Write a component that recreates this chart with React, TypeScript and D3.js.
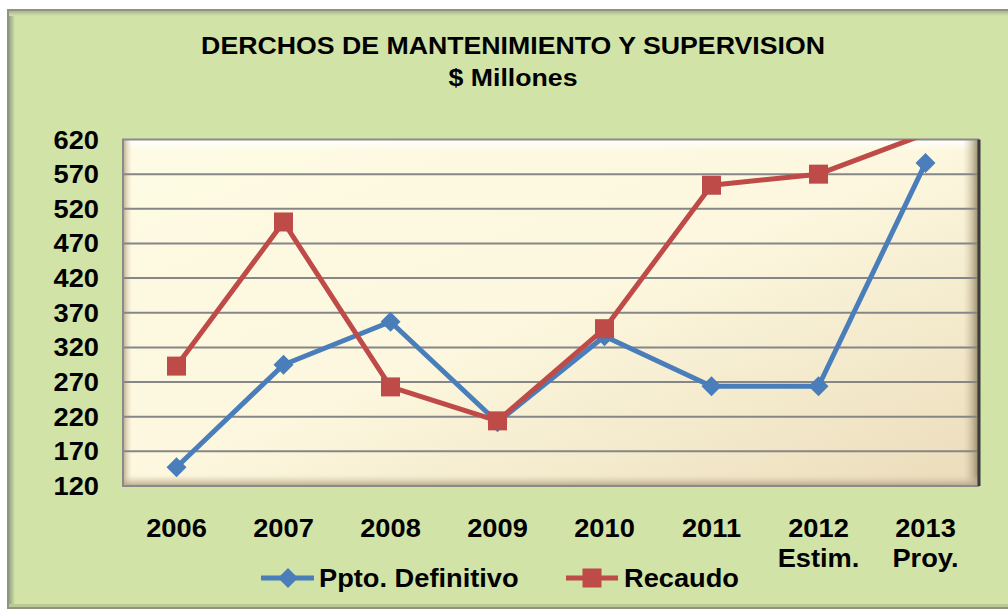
import React from "react";
import * as d3 from "d3";

const years = ["2006", "2007", "2008", "2009", "2010", "2011", "2012", "2013"];
const subLabels = ["", "", "", "", "", "", "Estim.", "Proy."];
const ppto = [147, 295, 357, 212, 336, 264, 264, 586];
const recaudo = [293, 501, 263, 214, 347, 554, 570, 628];
const yTicks = [120, 170, 220, 270, 320, 370, 420, 470, 520, 570, 620];
const seriesNames = ["Ppto. Definitivo", "Recaudo"];
const titleLines = ["DERCHOS DE MANTENIMIENTO Y SUPERVISION", "$ Millones"];

const W = 1008;
const H = 614;
const PL = 123, PR = 979, PT = 139.5, PB = 486;
const FONT = "'Liberation Sans', Arial, sans-serif";
const SX = 1.09;
const BLUE = "#4a7ebb";
const RED = "#be4b48";

export default function App() {
  const x = d3.scaleBand<string>().domain(years).range([PL, PR]);
  const y = d3.scaleLinear().domain([120, 620]).range([PB, PT]);
  const [yMin, yMax] = y.domain();
  const inRange = (v: number) => v >= yMin && v <= yMax;
  const cx = (i: number) => (x(years[i]) as number) + x.bandwidth() / 2;
  const line = d3.line<number>().x((_, i) => cx(i)).y((v) => y(v));

  const T = (
    tx: number,
    ty: number,
    s: string,
    size: number,
    anchor: "start" | "middle" | "end" = "middle",
    key?: string
  ) => (
    <text
      key={key}
      transform={`translate(${tx},${ty}) scale(${SX},1)`}
      textAnchor={anchor}
      fontFamily={FONT}
      fontWeight="bold"
      fontSize={size}
      fill="#000"
    >
      {s}
    </text>
  );

  const diamond = (px: number, py: number, r: number, key?: string) => (
    <path
      key={key}
      d={`M${px},${py - r}L${px + r},${py}L${px},${py + r}L${px - r},${py}Z`}
      fill={BLUE}
    />
  );
  const square = (px: number, py: number, s: number, key?: string) => (
    <rect key={key} x={px - s / 2} y={py - s / 2} width={s} height={s} fill={RED} />
  );

  return (
    <svg
      width={W}
      height={H}
      style={{ position: "absolute", left: 0, top: 0, display: "block" }}
    >
      <defs>
        <linearGradient id="plotBg" x1="0" y1="0" x2="1" y2="1">
          <stop offset="0" stopColor="#fefbe4" />
          <stop offset="0.5" stopColor="#fcf7de" />
          <stop offset="1" stopColor="#ebdcba" />
        </linearGradient>
        <linearGradient id="bvTop" x1="0" y1="0" x2="0" y2="1">
          <stop offset="0" stopColor="#ffffff" stopOpacity="1" />
          <stop offset="1" stopColor="#ffffff" stopOpacity="0" />
        </linearGradient>
        <linearGradient id="bvLeft" x1="0" y1="0" x2="1" y2="0">
          <stop offset="0" stopColor="#b9a98a" stopOpacity="1" />
          <stop offset="1" stopColor="#e8dcc0" stopOpacity="0" />
        </linearGradient>
        <linearGradient id="bvRight" x1="0" y1="0" x2="1" y2="0">
          <stop offset="0" stopColor="#d8c9a6" stopOpacity="0" />
          <stop offset="1" stopColor="#8f8266" stopOpacity="1" />
        </linearGradient>
        <linearGradient id="bvBottom" x1="0" y1="0" x2="0" y2="1">
          <stop offset="0" stopColor="#dccfae" stopOpacity="0" />
          <stop offset="1" stopColor="#b3a688" stopOpacity="1" />
        </linearGradient>
        <linearGradient id="frLeft" x1="0" y1="0" x2="1" y2="0">
          <stop offset="0" stopColor="#97a183" />
          <stop offset="1" stopColor="#d1e3a7" />
        </linearGradient>
        <linearGradient id="frTop" x1="0" y1="0" x2="0" y2="1">
          <stop offset="0" stopColor="#aab494" />
          <stop offset="1" stopColor="#d1e3a7" />
        </linearGradient>
        <clipPath id="plotClip">
          <rect x={PL} y={PT} width={PR - PL} height={PB - PT} />
        </clipPath>
      </defs>

      {/* outer frame */}
      <rect x={7} y={9} width={1010} height={600} fill="#8e9480" />
      <rect x={9} y={11} width={1010} height={596} fill="#d1e3a7" />
      <rect x={9} y={11} width={6} height={596} fill="url(#frLeft)" />
      <rect x={9} y={11} width={1010} height={5} fill="url(#frTop)" />
      <rect x={9} y={604} width={1010} height={3} fill="#b9c894" />

      {/* plot area */}
      <rect x={PL} y={PT} width={PR - PL} height={PB - PT} fill="url(#plotBg)" />
      <rect x={PL} y={PT} width={PR - PL} height={12} fill="url(#bvTop)" />
      <rect x={PL} y={PT} width={9} height={PB - PT} fill="url(#bvLeft)" />
      <rect x={PR - 16} y={PT} width={16} height={PB - PT} fill="url(#bvRight)" />
      <rect x={PL} y={PB - 11} width={PR - PL} height={11} fill="url(#bvBottom)" />

      {/* gridlines */}
      {yTicks.slice(1, -1).map((t) => (
        <line
          key={t}
          x1={PL}
          x2={PR}
          y1={y(t)}
          y2={y(t)}
          stroke="#868686"
          strokeWidth={2}
        />
      ))}

      {/* borders */}
      <path
        d={`M${PR},${PT}L${PL},${PT}L${PL},${PB}L${PR},${PB}`}
        fill="none"
        stroke="#8a8a8a"
        strokeWidth={2}
      />
      <line x1={PR} x2={PR} y1={PT} y2={PB} stroke="#3a3a3a" strokeWidth={3} />

      {/* series */}
      <g clipPath="url(#plotClip)">
        <path d={line(ppto) || ""} fill="none" stroke={BLUE} strokeWidth={5} strokeLinejoin="round" />
        {ppto.map((v, i) => (inRange(v) ? diamond(cx(i), y(v), 10, "d" + i) : null))}
        <path d={line(recaudo) || ""} fill="none" stroke={RED} strokeWidth={5} strokeLinejoin="round" />
        {recaudo.map((v, i) => (inRange(v) ? square(cx(i), y(v), 19, "s" + i) : null))}
      </g>

      {/* y tick labels */}
      {yTicks.map((t) => T(99, y(t) + 9, String(t), 25, "end", "yt" + t))}

      {/* x labels */}
      {years.map((yr, i) => T(cx(i), 537, yr, 25, "middle", "x" + i))}
      {subLabels.map((s, i) => (s ? T(cx(i), 567, s, 25, "middle", "xs" + i) : null))}

      {/* title */}
      {T(513, 54, titleLines[0], 24.5, "middle", "t0")}
      {T(513, 86, titleLines[1], 24.5, "middle", "t1")}

      {/* legend */}
      <line x1={261} x2={314} y1={578} y2={578} stroke={BLUE} strokeWidth={5} />
      {diamond(288, 578, 10)}
      {T(319, 587, seriesNames[0], 25, "start", "l0")}
      <line x1={566} x2={618} y1={578} y2={578} stroke={RED} strokeWidth={5} />
      {square(592, 578, 19)}
      {T(624, 587, seriesNames[1], 25, "start", "l1")}
    </svg>
  );
}
